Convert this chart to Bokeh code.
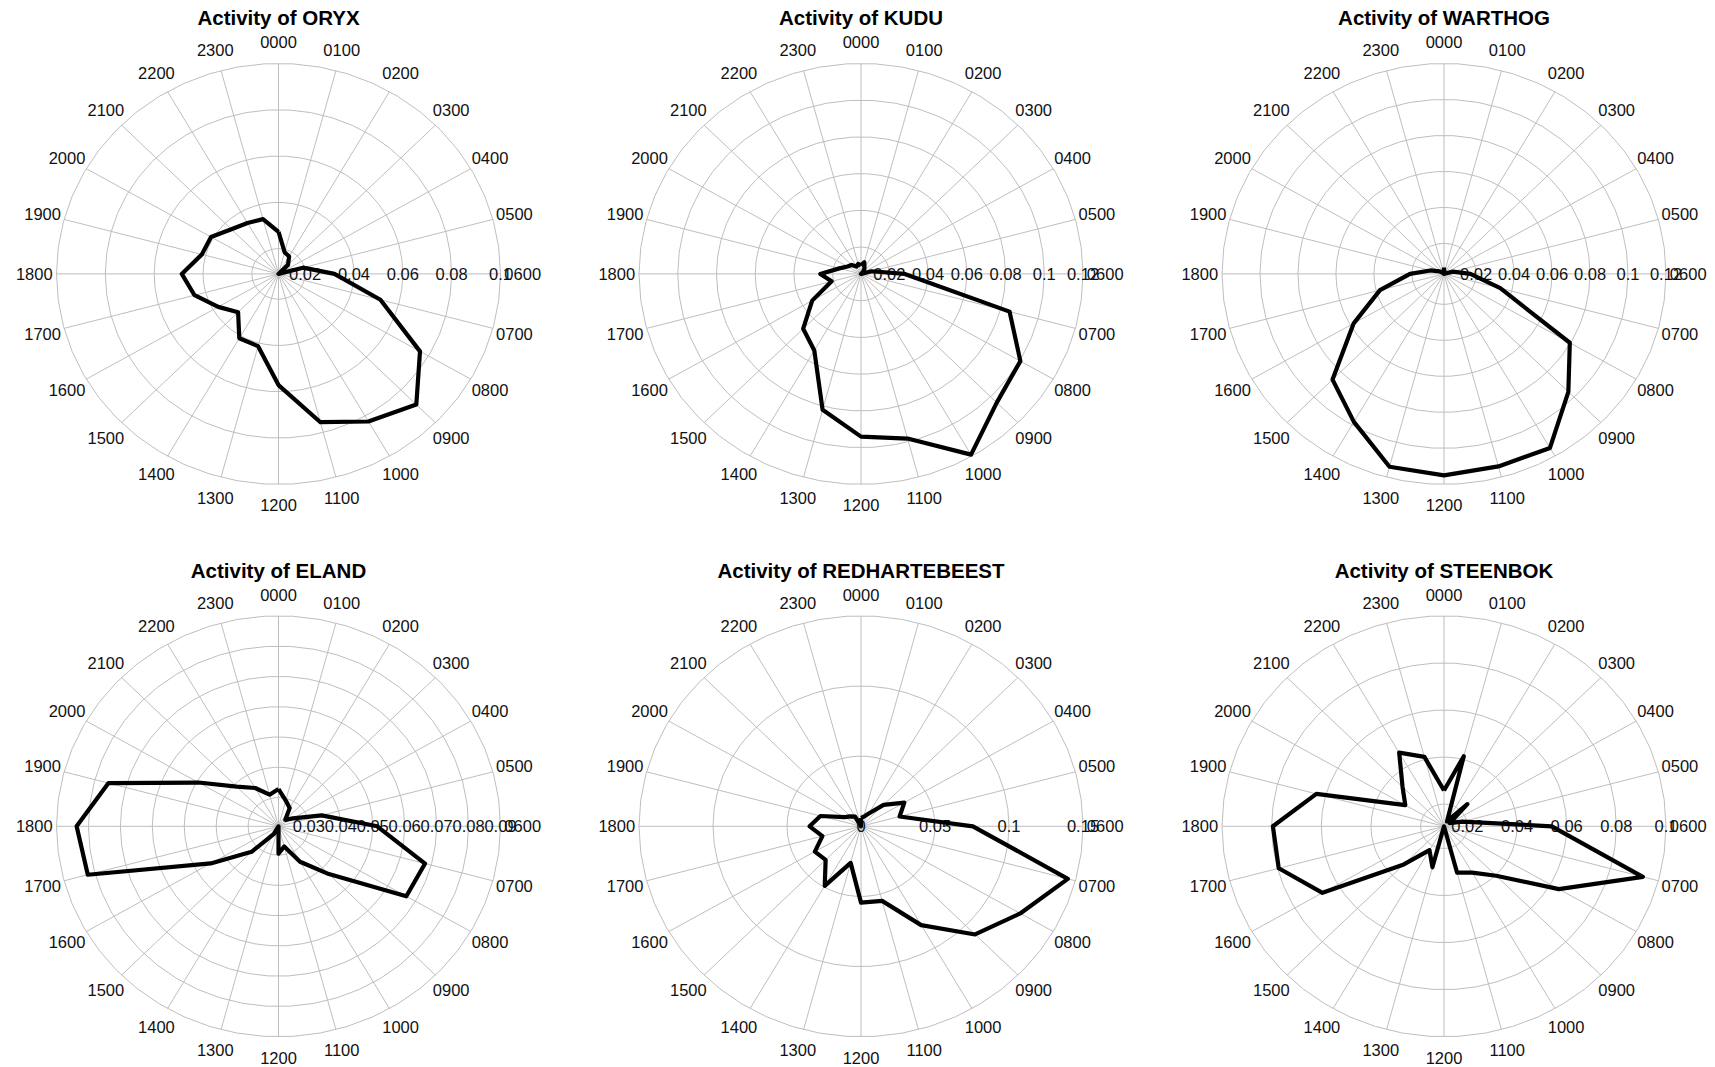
import numpy as np
from bokeh.plotting import figure
from bokeh.models import Range1d
from bokeh.embed import file_html
from bokeh.resources import INLINE
from bokeh.core.properties import value

# ---------------- data ----------------
HOURS = ["0000", "0100", "0200", "0300", "0400", "0500", "0600", "0700",
         "0800", "0900", "1000", "1100", "1200", "1300", "1400", "1500",
         "1600", "1700", "1800", "1900", "2000", "2100", "2200", "2300"]

SPECIES = ["ORYX", "KUDU", "WARTHOG", "ELAND", "REDHARTEBEEST", "STEENBOK"]

ORYX = [0.0273, 0.0188, 0.0178, 0.0146, 0.0091, 0.0195, 0.0320, 0.0523,
        0.0760, 0.0889, 0.0827, 0.0754, 0.0571, 0.0414, 0.0412, 0.0325,
        0.0376, 0.0447, 0.0487, 0.0416, 0.0410, 0.0364, 0.0345, 0.0336]
KUDU = [0.0100, 0.0120, 0.0090, 0.0070, 0.0054, 0.0110, 0.0280, 0.0848,
        0.1004, 0.1045, 0.1190, 0.0982, 0.0940, 0.0820, 0.0536, 0.0476,
        0.0345, 0.0211, 0.0264, 0.0170, 0.0134, 0.0123, 0.0100, 0.0110]
WARTHOG = [0.0066, 0.0040, 0.0035, 0.0031, 0.0033, 0.0080, 0.0170, 0.0338,
           0.0796, 0.0957, 0.1147, 0.1138, 0.1150, 0.1140, 0.0980, 0.0861,
           0.0580, 0.0380, 0.0210, 0.0105, 0.0060, 0.0040, 0.0035, 0.0035]
ELAND = [0.0328, 0.0293, 0.0275, 0.0235, 0.0257, 0.0345, 0.0514, 0.0680,
         0.0667, 0.0428, 0.0340, 0.0274, 0.0295, 0.0205, 0.0235, 0.0324,
         0.0450, 0.0823, 0.0837, 0.0756, 0.0494, 0.0390, 0.0351, 0.0313]
REDHARTEBEEST = [0.0060, 0.0070, 0.0105, 0.0216, 0.0338, 0.0270, 0.0756, 0.1447,
                 0.1242, 0.1090, 0.0813, 0.0550, 0.0544, 0.0270, 0.0490, 0.0338,
                 0.0360, 0.0270, 0.0347, 0.0284, 0.0130, 0.0100, 0.0080, 0.0000]
STEENBOK = [0.0258, 0.0414, 0.0130, 0.0239, 0.0133, 0.0182, 0.0540, 0.0935,
            0.0640, 0.0403, 0.0333, 0.0310, 0.0106, 0.0286, 0.0223, 0.0335,
            0.0671, 0.0795, 0.0795, 0.0638, 0.0286, 0.0342, 0.0467, 0.0411]

# radial grid values (ticks) of each panel
ORYX_TICKS = [0.02, 0.04, 0.06, 0.08, 0.1]
KUDU_TICKS = [0.02, 0.04, 0.06, 0.08, 0.1, 0.12]
WARTHOG_TICKS = [0.02, 0.04, 0.06, 0.08, 0.1, 0.12]
ELAND_TICKS = [0.03, 0.04, 0.05, 0.06, 0.07, 0.08, 0.09]
REDHARTEBEEST_TICKS = [0, 0.05, 0.1, 0.15]
STEENBOK_TICKS = [0.02, 0.04, 0.06, 0.08, 0.1]

SERIES = [ORYX, KUDU, WARTHOG, ELAND, REDHARTEBEEST, STEENBOK]
TICKS = [ORYX_TICKS, KUDU_TICKS, WARTHOG_TICKS, ELAND_TICKS,
         REDHARTEBEEST_TICKS, STEENBOK_TICKS]

# ---------------- layout ----------------
W, H = 1715, 1067
COL_X = [278.0, 860.5, 1443.5]
ROW_Y = [273.4, 825.8]
RX, RY = 222.0, 210.5
GRID_COL = "#bebebe"
FONT = "Liberation Sans"

p = figure(width=W, height=H, x_range=Range1d(0, W), y_range=Range1d(H, 0),
           x_axis_type=None, y_axis_type=None, toolbar_location=None,
           output_backend="svg", min_border=0, outline_line_color=None,
           background_fill_color="white", border_fill_color="white")
p.xgrid.visible = False
p.ygrid.visible = False

n = len(HOURS)
phi = np.arange(n) * 2 * np.pi / n          # clockwise from top
circ = np.arange(0, 1.96 * np.pi + 1e-9, 0.04 * np.pi)
circ = np.append(circ, circ[0])

for k, (name, vals, ticks) in enumerate(zip(SPECIES, SERIES, TICKS)):
    cx = COL_X[k % 3]
    cy = ROW_Y[k // 3]
    vals = np.asarray(vals, dtype=float)
    vmin = vals.min()
    span = max(ticks) - vmin

    def rr(v):
        return (np.asarray(v, dtype=float) - vmin) / span

    # grid circles
    xs, ys = [], []
    for g in ticks:
        f = rr(g)
        if f <= 0:
            continue
        xs.append(list(cx + f * RX * np.cos(circ)))
        ys.append(list(cy - f * RY * np.sin(circ)))
    p.multi_line(xs, ys, line_color=GRID_COL, line_width=1)

    # spokes
    p.segment(x0=[cx] * n, y0=[cy] * n,
              x1=list(cx + RX * np.sin(phi)), y1=list(cy - RY * np.cos(phi)),
              line_color=GRID_COL, line_width=1)

    # hour labels
    p.text(x=list(cx + 1.1 * RX * np.sin(phi)), y=list(cy - 1.1 * RY * np.cos(phi)),
           text=HOURS, text_font=value(FONT), text_font_size="16.5px",
           text_align="center", text_baseline="middle", text_color="#111111")

    # radial labels
    lbl = [("%g" % g) for g in ticks]
    p.text(x=list(cx + rr(ticks) * RX), y=[cy] * len(ticks), text=lbl,
           text_font=value(FONT), text_font_size="16.5px",
           text_align="center", text_baseline="middle", text_color="#111111")

    # data polygon
    f = rr(vals)
    px = list(cx + f * RX * np.sin(phi))
    py = list(cy - f * RY * np.cos(phi))
    px.append(px[0])
    py.append(py[0])
    p.line(px, py, line_color="black", line_width=4.2, line_join="round")

    # title
    p.text(x=[cx], y=[cy - 256], text=["Activity of " + name],
           text_font=value(FONT), text_font_size="20.5px", text_font_style="bold",
           text_align="center", text_baseline="middle", text_color="black")

open("out.html", "w").write(file_html(p, INLINE))
